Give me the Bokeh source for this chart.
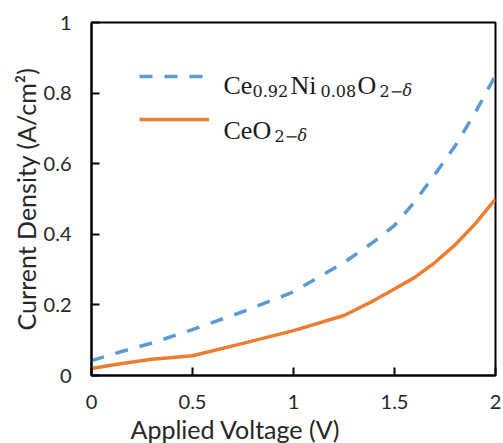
from bokeh.plotting import figure
from bokeh.models import (Range1d, FixedTicker, Label, Legend, LegendItem, Title,
                          CustomJSTickFormatter, ColumnDataSource)
from bokeh.embed import file_html
from bokeh.resources import INLINE

# ---- data ----
voltage = [0.0, 0.15, 0.3, 0.5, 0.75, 1.0, 1.25, 1.4, 1.5, 1.6, 1.7, 1.8, 1.9, 2.0]
ceni = [0.042, 0.068, 0.092, 0.13, 0.181, 0.237, 0.32, 0.38, 0.425, 0.492, 0.57, 0.65, 0.745, 0.85]
ceo2 = [0.02, 0.034, 0.046, 0.056, 0.091, 0.127, 0.17, 0.213, 0.245, 0.278, 0.32, 0.37, 0.43, 0.5]

x_ticks = [0, 0.5, 1, 1.5, 2]
y_ticks = [0, 0.2, 0.4, 0.6, 0.8, 1]

x_title = "Applied Voltage (V)"
y_title = "Current Density (A/cm²)"

BLUE = "#5B9BD5"
ORANGE = "#ED7D31"
TXT = "#262626"

src = ColumnDataSource(dict(v=voltage, a=ceni, b=ceo2))

p = figure(width=503, height=443, output_backend="svg", toolbar_location=None,
           x_range=Range1d(0, 2), y_range=Range1d(0, 1),
           min_border_left=91, min_border_right=8, min_border_top=22,
           min_border_bottom=66)

p.xgrid.visible = False
p.ygrid.visible = False
p.outline_line_color = "black"
p.outline_line_width = 2
p.outline_line_alpha = 1

fmt = CustomJSTickFormatter(code="return String(Math.round(tick*10)/10);")
for ax, ticks in ((p.xaxis[0], x_ticks), (p.yaxis[0], y_ticks)):
    ax.ticker = FixedTicker(ticks=ticks)
    ax.formatter = fmt
    ax.axis_line_color = "black"
    ax.axis_line_width = 2
    ax.major_tick_line_color = "black"
    ax.major_tick_line_width = 2
    ax.major_tick_in = 8
    ax.major_tick_out = 0
    ax.minor_tick_line_color = None
    ax.major_label_text_font = "Lato"
    ax.major_label_text_font_size = "20px"
    ax.major_label_text_color = TXT

p.xaxis.major_label_standoff = 19
p.yaxis.major_label_standoff = 20
p.yaxis.axis_label = y_title
p.yaxis.axis_label_text_font = "Lato"
p.yaxis.axis_label_text_font_size = "25px"
p.yaxis.axis_label_text_font_style = "normal"
p.yaxis.axis_label_text_color = TXT
p.yaxis.axis_label_standoff = 0

r_a = p.line("v", "a", source=src, line_color=BLUE, line_width=3.5, line_dash="13 12")
r_b = p.line("v", "b", source=src, line_color=ORANGE, line_width=3.5)

legend = Legend(items=[LegendItem(label=" ", renderers=[r_a]),
                       LegendItem(label=" ", renderers=[r_b])],
                location=(48, 246), orientation="vertical",
                glyph_width=70, glyph_height=20, label_height=20, label_width=0,
                label_standoff=0, spacing=23, padding=0, margin=0,
                border_line_alpha=0, background_fill_alpha=0,
                label_text_font_size="1px")
p.add_layout(legend, "center")

# legend texts with subscripts (screen units from frame bottom-left)
MAIN = "Liberation Serif"
SUB = "DejaVu Serif"
pieces = [
    # text, x, y, font, size, style
    ("Ce", 132, 290, MAIN, "26px", "normal"),
    ("0.92", 161, 285, SUB, "16px", "normal"),
    ("Ni", 199, 290, MAIN, "26px", "normal"),
    ("0.08", 229, 285, SUB, "16px", "normal"),
    ("O", 266, 290, MAIN, "26px", "normal"),
    ("2−", 288, 285, SUB, "16px", "normal"),
    ("δ", 311, 285, SUB, "16px", "italic"),
    ("Ce", 132, 245, MAIN, "26px", "normal"),
    ("O", 161, 245, MAIN, "26px", "normal"),
    ("2−", 183, 240, SUB, "16px", "normal"),
    ("δ", 206, 240, SUB, "16px", "italic"),
]
for t, x, y, f, s, st in pieces:
    p.add_layout(Label(x=x, y=y, x_units="screen", y_units="screen", text=t,
                       text_font=f, text_font_size=s, text_font_style=st,
                       text_color="#1a1a1a", text_baseline="alphabetic",
                       text_align="left"))

# x axis title (offset to the left as in the reference)
p.add_layout(Title(text=x_title, align="left", offset=39, text_font="Lato",
                   text_font_size="25px", text_font_style="normal",
                   text_line_height=0.8, text_color=TXT, standoff=0), "below")

open("out.html", "w").write(file_html(p, INLINE))
